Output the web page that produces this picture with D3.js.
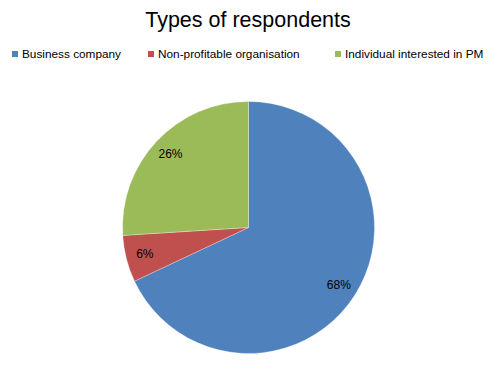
<!DOCTYPE html>
<html>
<head>
<meta charset="utf-8">
<script src="https://cdn.jsdelivr.net/npm/d3@7"></script>
<style>
  body { margin: 0; background: #fff; }
  text { font-family: "Liberation Sans", Arial, sans-serif; fill: #000; }
</style>
</head>
<body>
<svg id="chart"></svg>
<script>
// data
const categories = ["Business company", "Non-profitable organisation", "Individual interested in PM"];
const shares = [68, 6, 26];
const colors = ["#4F81BD", "#C0504D", "#9BBB59"];

const width = 500;
const height = 375;
const cx = 248.5, cy = 227.5, radius = 126;

const svg = d3.select('#chart')
  .attr('width', width)
  .attr('height', height);

// title
svg.append('text')
  .attr('x', 248)
  .attr('y', 27)
  .attr('text-anchor', 'middle')
  .style('font-size', '21.5px')
  .text('Types of respondents');

// legend
const legendX = [12, 148, 335];
const legend = svg.selectAll('.legend')
  .data(categories)
  .enter().append('g')
  .attr('class', 'legend')
  .attr('transform', (d, i) => 'translate(' + legendX[i] + ',54)');

legend.append('rect')
  .attr('x', 0).attr('y', -3)
  .attr('width', 6).attr('height', 6)
  .attr('fill', (d, i) => colors[i]);

legend.append('text')
  .attr('x', 10)
  .attr('y', 4)
  .style('font-size', '11.8px')
  .text(d => d);

// pie
const pie = d3.pie().sort(null).value(d => d);
const arcs = pie(shares);
const arc = d3.arc().innerRadius(0).outerRadius(radius);
const labelArc = d3.arc().innerRadius(107).outerRadius(107);

const g = svg.append('g')
  .attr('transform', 'translate(' + cx + ',' + cy + ')');

g.selectAll('.slice')
  .data(arcs)
  .enter().append('path')
  .attr('class', 'slice')
  .attr('d', arc)
  .attr('fill', (d, i) => colors[i])
  .attr('stroke', '#fff')
  .attr('stroke-width', 0.3);

g.selectAll('.label')
  .data(arcs)
  .enter().append('text')
  .attr('class', 'label')
  .attr('transform', d => 'translate(' + labelArc.centroid(d) + ')')
  .attr('text-anchor', 'middle')
  .attr('dy', '0.35em')
  .style('font-size', '12px')
  .text(d => d.data + '%');
</script>
</body>
</html>
